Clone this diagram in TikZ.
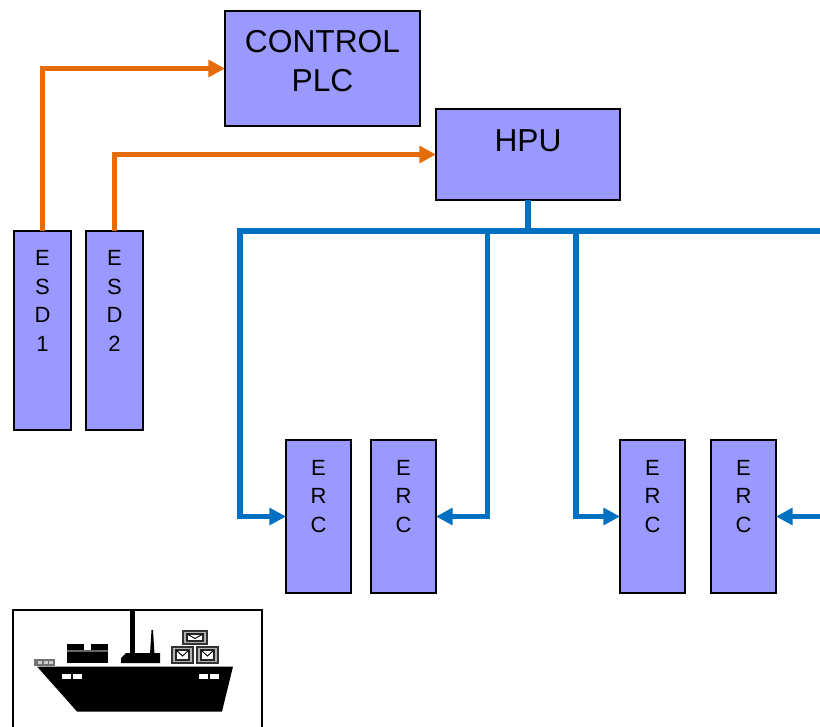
\documentclass[tikz,border=0pt]{standalone}
\usepackage{fontspec}
\setmainfont{Liberation Sans}
\usetikzlibrary{arrows.meta}
\definecolor{boxfill}{HTML}{9999FF}
\definecolor{linkorange}{HTML}{E46C0A}
\definecolor{linkblue}{HTML}{0070C0}
\newlength{\pxu}
\setlength{\pxu}{0.75pt}
\tikzset{
  x=0.75pt,y=-0.75pt,
  unit/.style={draw=black,line width=1.15pt,fill=boxfill,inner sep=0pt,outer sep=0pt,text=black,align=center},
  bigbox/.style={unit,font=\fontsize{23.8pt}{29.5pt}\selectfont},
  tallbox/.style={unit,font=\fontsize{16.5pt}{21.4pt}\selectfont},
  orangelink/.style={draw=linkorange,line width=4pt,-{Triangle[length=12.5pt,width=12.5pt]}},
  bluelink/.style={draw=linkblue,line width=4pt,-{Triangle[length=12.5pt,width=12.5pt]}},
  bluebus/.style={draw=linkblue,line width=4pt},
  shippart/.style={fill=black,draw=none},
  crate/.style={draw=black!80,line width=1.3pt,fill=white!70!black},
  envelope/.style={draw=black!85,line width=.8pt,fill=white},
}
% #1 width, #2 height, #3 top gap, #4 text
\newcommand{\boxtext}[4]{\parbox[c][#2\pxu][t]{#1\pxu}{\centering\vspace*{#3\pxu}#4\par}}
\begin{document}
\begin{tikzpicture}
\useasboundingbox (0,0) rectangle (820,727);
\begin{scope}
\clip (0,0) rectangle (820,727);

% ship picture frame
\draw[black,line width=1.5pt] (12.5,735) -- (12.5,610) -- (261.5,610) -- (261.5,735);
% hull
\fill[shippart] (37,666.5) -- (233,666.5) -- (222,711.5) -- (77,711.5) -- cycle;
\foreach \xa in {62,73,199,210}
  \fill[white] (\xa,674) rectangle ++(9,5);
% bow rail
\fill[black!55] (34,659) rectangle (55,666);
\foreach \xa in {38,44,49} \fill[white!80!black] (\xa,661) rectangle ++(3.5,3);
% left containers
\fill[shippart] (67,644) rectangle (84,650);
\fill[shippart] (91,644) rectangle (108,650);
\fill[shippart] (67,652) rectangle (108,663);
\fill[black!60] (67,650) rectangle (108,652);
% mast and funnels
\fill[shippart] (130,610) rectangle (135,654);
\fill[shippart] (150,654) -- (151.5,630) -- (153,630) -- (154.5,654) -- cycle;
\fill[shippart] (126,653) -- (160,653) -- (160,663) -- (121,663) -- (121,658) -- cycle;
% stacked crates
\foreach \xa/\ya/\wa/\ha in {183/631/24/13, 172/647/21/16, 197/647/21/16}{
  \draw[crate] (\xa,\ya) rectangle ++(\wa,\ha);
  \draw[envelope] (\xa+4,\ya+3) rectangle ++(\wa-8,\ha-6);
  \draw[black,line width=.7pt] (\xa+4,\ya+3) -- (\xa+\wa/2,\ya+\ha/2+1) -- (\xa+\wa-4,\ya+3);
}
\end{scope}

% units
\node[bigbox,anchor=north west,minimum width=146.25pt,minimum height=86.25pt] (plc) at (225,11)
  {\boxtext{195}{115}{19}{CONTROL\\[0.2pt]PLC}};
\node[bigbox,anchor=north west,minimum width=138pt,minimum height=68.25pt] (hpu) at (436,109)
  {\boxtext{184}{91}{21}{HPU}};
\node[tallbox,anchor=north west,minimum width=42.75pt,minimum height=149.25pt] (esd1) at (14,231)
  {\boxtext{57}{199}{19.5}{E\\S\\D\\1}};
\node[tallbox,anchor=north west,minimum width=42.75pt,minimum height=149.25pt] (esd2) at (86,231)
  {\boxtext{57}{199}{19.5}{E\\S\\D\\2}};
\node[tallbox,anchor=north west,minimum width=48.75pt,minimum height=114.75pt] (erc1) at (286,440)
  {\boxtext{65}{153}{20}{E\\R\\C}};
\node[tallbox,anchor=north west,minimum width=48.75pt,minimum height=114.75pt] (erc2) at (371,440)
  {\boxtext{65}{153}{20}{E\\R\\C}};
\node[tallbox,anchor=north west,minimum width=48.75pt,minimum height=114.75pt] (erc3) at (620,440)
  {\boxtext{65}{153}{20}{E\\R\\C}};
\node[tallbox,anchor=north west,minimum width=48.75pt,minimum height=114.75pt] (erc4) at (711,440)
  {\boxtext{65}{153}{20}{E\\R\\C}};

% connectors' junctions on the blue bus
\coordinate (busL) at (240,231);
\coordinate (busR) at (820,231);
\coordinate (busA) at (487.5,231);
\coordinate (busB) at (576,231);
\coordinate (feedR) at (820,516.5);

% orange links
\draw[orangelink] (esd1.north) |- (plc.west);
\draw[orangelink] (esd2.north) |- (hpu.west);

% blue links
\draw[bluebus] (hpu.south) -- (hpu.south |- busL);
\draw[bluelink] (busR) -- (busL) |- (erc1.west);
\draw[bluelink] (busA) |- (erc2.east);
\draw[bluelink] (busB) |- (erc3.west);
\draw[bluelink] (feedR) -- (erc4.east);
\end{tikzpicture}
\end{document}
